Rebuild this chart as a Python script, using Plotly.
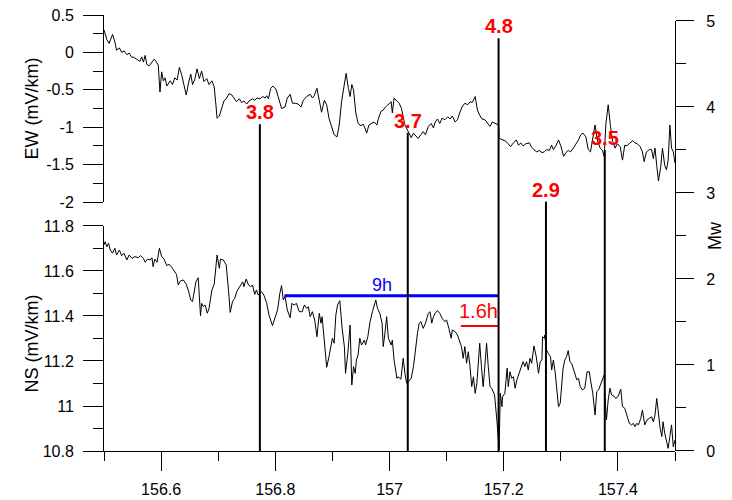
import plotly.graph_objects as go

# ---------------- data ----------------
ew_series = [
(156.500,0.30),(156.505,0.17),(156.509,0.12),(156.515,0.24),(156.519,0.14),(156.522,0.03),(156.527,0.06),(156.531,0.00),
(156.535,0.02),(156.540,-0.03),(156.544,-0.01),(156.549,-0.07),(156.551,-0.06),(156.557,-0.09),(156.563,-0.12),(156.566,-0.06),
(156.569,-0.13),(156.572,-0.04),(156.575,-0.16),(156.579,-0.18),(156.584,-0.13),(156.588,-0.09),(156.591,-0.12),(156.595,-0.17),
(156.598,-0.53),(156.601,-0.26),(156.604,-0.38),(156.607,-0.34),(156.610,-0.45),(156.616,-0.38),(156.620,-0.43),(156.624,-0.34),
(156.628,-0.37),(156.632,-0.20),(156.636,-0.30),(156.639,-0.39),(156.644,-0.57),(156.648,-0.41),(156.652,-0.29),(156.655,-0.43),
(156.659,-0.36),(156.663,-0.22),(156.667,-0.35),(156.671,-0.25),(156.675,-0.39),(156.680,-0.35),(156.684,-0.43),(156.689,-0.38),
(156.693,-0.46),(156.696,-0.70),(156.698,-0.88),(156.702,-0.85),(156.706,-0.75),(156.710,-0.65),(156.715,-0.61),(156.719,-0.55),
(156.724,-0.57),(156.728,-0.62),(156.732,-0.66),(156.737,-0.62),(156.741,-0.67),(156.745,-0.65),(156.750,-0.69),(156.754,-0.65),
(156.760,-0.62),(156.764,-0.64),(156.768,-0.61),(156.773,-0.62),(156.778,-0.59),(156.782,-0.61),(156.785,-0.58),(156.788,-0.62),
(156.792,-0.48),(156.796,-0.45),(156.801,-0.49),(156.805,-0.59),(156.811,-0.75),(156.817,-0.73),(156.821,-0.61),(156.826,-0.56),
(156.830,-0.68),(156.835,-0.68),(156.840,-0.69),(156.845,-0.73),(156.849,-0.64),(156.855,-0.59),(156.861,-0.56),(156.865,-0.61),
(156.868,-0.58),(156.873,-0.48),(156.877,-0.66),(156.881,-0.80),(156.886,-0.64),(156.890,-0.70),(156.894,-0.88),(156.899,-0.99),
(156.903,-1.10),(156.908,-1.13),(156.912,-0.97),(156.916,-0.66),(156.921,-0.39),(156.924,-0.28),(156.928,-0.48),(156.931,-0.59),
(156.934,-0.43),(156.937,-0.50),(156.941,-0.81),(156.945,-0.95),(156.950,-0.98),(156.954,-0.96),(156.957,-1.01),(156.960,-1.08),
(156.964,-0.97),(156.969,-0.95),(156.973,-0.93),(156.978,-0.97),(156.980,-0.90),(156.985,-0.79),(156.989,-0.77),(156.993,-0.73),
(156.998,-0.69),(157.003,-0.66),(157.005,-0.81),(157.008,-0.61),(157.013,-0.65),(157.017,-0.68),(157.021,-0.75),(157.027,-0.97),
(157.033,-1.06),(157.038,-1.14),(157.042,-1.08),(157.046,-1.11),(157.050,-1.15),(157.055,-1.10),(157.059,-1.06),(157.063,-1.10),
(157.068,-0.99),(157.073,-0.95),(157.077,-1.01),(157.080,-0.93),(157.084,-0.89),(157.088,-0.95),(157.092,-0.88),(157.097,-0.90),
(157.102,-0.86),(157.106,-0.89),(157.110,-0.85),(157.115,-0.93),(157.119,-0.90),(157.123,-0.81),(157.127,-0.73),(157.132,-0.68),
(157.137,-0.70),(157.141,-0.66),(157.145,-0.67),(157.150,-0.59),(157.154,-0.77),(157.158,-0.84),(157.162,-0.89),(157.167,-0.90),
(157.172,-0.95),(157.176,-0.99),(157.180,-0.93),(157.185,-0.95),(157.189,-0.96),(157.191,-0.97),(157.192,-1.15),(157.196,-1.16),
(157.202,-1.18),(157.208,-1.22),(157.212,-1.26),(157.217,-1.21),(157.222,-1.17),(157.226,-1.24),(157.230,-1.21),(157.234,-1.25),
(157.239,-1.22),(157.245,-1.21),(157.249,-1.27),(157.253,-1.30),(157.258,-1.33),(157.262,-1.31),(157.267,-1.34),(157.271,-1.33),
(157.275,-1.30),(157.280,-1.31),(157.284,-1.24),(157.287,-1.30),(157.292,-1.24),(157.296,-1.17),(157.300,-1.25),(157.305,-1.39),
(157.309,-1.34),(157.313,-1.31),(157.317,-1.33),(157.322,-1.28),(157.327,-1.22),(157.331,-1.17),(157.335,-1.10),(157.339,-1.08),
(157.344,-1.13),(157.348,-1.30),(157.352,-1.33),(157.357,-1.08),(157.360,-0.97),(157.364,-1.17),(157.369,-1.28),(157.373,-1.31),
(157.376,-1.39),(157.379,-0.95),(157.383,-0.70),(157.387,-0.99),(157.391,-1.19),(157.395,-1.28),(157.399,-1.22),(157.404,-1.26),
(157.408,-1.44),(157.412,-1.24),(157.416,-1.25),(157.421,-1.21),(157.426,-1.18),(157.430,-1.21),(157.434,-1.22),(157.439,-1.26),
(157.443,-1.33),(157.446,-1.46),(157.450,-1.33),(157.455,-1.30),(157.459,-1.30),(157.462,-1.42),(157.465,-1.28),(157.468,-1.51),
(157.471,-1.72),(157.475,-1.53),(157.478,-1.28),(157.482,-1.51),(157.485,-1.57),(157.488,-1.44),(157.491,-0.97),(157.494,-1.28),
(157.497,-1.33),(157.500,-1.48),
]

ns_series = [
(156.500,11.716),(156.502,11.730),(156.505,11.708),(156.508,11.723),(156.511,11.693),(156.515,11.679),(156.519,11.701),(156.522,11.671),
(156.527,11.693),(156.531,11.668),(156.535,11.679),(156.540,11.649),(156.544,11.671),(156.549,11.656),(156.554,11.664),(156.560,11.659),
(156.564,11.668),(156.569,11.656),(156.572,11.639),(156.576,11.653),(156.581,11.649),(156.584,11.659),(156.586,11.619),(156.589,11.653),
(156.593,11.639),(156.597,11.701),(156.601,11.664),(156.605,11.653),(156.610,11.624),(156.614,11.630),(156.619,11.615),(156.623,11.600),
(156.627,11.585),(156.630,11.538),(156.634,11.556),(156.639,11.560),(156.644,11.541),(156.648,11.511),(156.652,11.471),(156.655,11.464),
(156.658,11.505),(156.661,11.552),(156.665,11.570),(156.667,11.501),(156.669,11.401),(156.671,11.456),(156.674,11.441),(156.677,11.449),
(156.681,11.412),(156.684,11.434),(156.689,11.516),(156.693,11.541),(156.696,11.612),(156.698,11.671),(156.702,11.612),(156.704,11.653),
(156.709,11.649),(156.714,11.627),(156.718,11.516),(156.721,11.416),(156.725,11.464),(156.729,11.479),(156.733,11.511),(156.738,11.530),
(156.743,11.552),(156.745,11.530),(156.749,11.564),(156.753,11.538),(156.757,11.530),(156.760,11.538),(156.764,11.496),(156.767,11.516),
(156.770,11.493),(156.776,11.508),(156.780,11.493),(156.785,11.456),(156.789,11.404),(156.795,11.357),(156.799,11.390),(156.804,11.427),
(156.808,11.501),(156.811,11.535),(156.814,11.471),(156.817,11.486),(156.821,11.427),(156.826,11.392),(156.829,11.456),(156.833,11.449),
(156.837,11.456),(156.842,11.419),(156.847,11.419),(156.851,11.449),(156.855,11.434),(156.858,11.441),(156.861,11.397),(156.865,11.419),
(156.869,11.382),(156.873,11.308),(156.877,11.412),(156.880,11.368),(156.882,11.397),(156.886,11.293),(156.890,11.172),(156.894,11.219),
(156.898,11.286),(156.900,11.301),(156.903,11.279),(156.906,11.404),(156.909,11.449),(156.913,11.468),(156.917,11.345),(156.921,11.264),
(156.923,11.145),(156.927,11.234),(156.931,11.360),(156.934,11.093),(156.937,11.175),(156.940,11.145),(156.942,11.204),(156.945,11.227),
(156.948,11.301),(156.951,11.271),(156.956,11.293),(156.958,11.271),(156.962,11.308),(156.966,11.375),(156.970,11.419),(156.973,11.449),
(156.976,11.471),(156.979,11.434),(156.983,11.412),(156.987,11.368),(156.989,11.264),(156.992,11.323),(156.995,11.397),(156.998,11.301),
(157.003,11.271),(157.005,11.293),(157.008,11.204),(157.013,11.123),(157.015,11.130),(157.020,11.119),(157.024,11.212),(157.027,11.145),
(157.030,11.101),(157.033,11.108),(157.038,11.123),(157.042,11.175),(157.046,11.279),(157.049,11.323),(157.052,11.368),(157.055,11.375),
(157.059,11.345),(157.063,11.368),(157.068,11.412),(157.071,11.419),(157.074,11.368),(157.077,11.397),(157.080,11.412),(157.084,11.424),
(157.088,11.412),(157.092,11.390),(157.097,11.375),(157.100,11.382),(157.104,11.345),(157.108,11.301),(157.110,11.338),(157.115,11.330),
(157.119,11.316),(157.123,11.286),(157.126,11.264),(157.129,11.212),(157.132,11.264),(157.135,11.190),(157.138,11.241),(157.141,11.175),
(157.144,11.086),(157.147,11.130),(157.150,11.056),(157.153,11.101),(157.156,11.197),(157.158,11.279),(157.161,11.175),(157.164,11.086),
(157.166,11.145),(157.170,11.279),(157.173,11.175),(157.176,11.086),(157.179,11.079),(157.184,11.049),(157.188,10.938),(157.191,10.834),
(157.192,10.804),(157.194,11.056),(157.197,10.997),(157.198,11.041),(157.202,11.056),(157.206,11.168),(157.208,11.086),(157.211,11.152),
(157.214,11.123),(157.217,11.130),(157.220,11.079),(157.223,11.116),(157.227,11.145),(157.232,11.182),(157.234,11.197),(157.237,11.175),
(157.240,11.197),(157.243,11.160),(157.246,11.212),(157.249,11.190),(157.253,11.267),(157.257,11.219),(157.261,11.145),(157.264,11.197),
(157.267,11.204),(157.268,11.308),(157.271,11.301),(157.272,11.316),(157.275,11.249),(157.278,11.234),(157.282,11.219),(157.284,11.160),
(157.287,11.204),(157.290,11.152),(157.293,11.056),(157.296,10.997),(157.299,11.012),(157.302,11.086),(157.304,11.168),(157.307,11.204),
(157.310,11.219),(157.313,11.246),(157.316,11.197),(157.319,11.190),(157.322,11.168),(157.325,11.145),(157.328,11.116),(157.331,11.123),
(157.334,11.086),(157.338,11.071),(157.342,11.079),(157.346,11.152),(157.350,11.152),(157.352,11.116),(157.356,11.056),(157.360,10.960),
(157.363,11.064),(157.366,11.071),(157.369,11.093),(157.373,11.123),(157.376,11.138),(157.377,11.056),(157.380,10.938),(157.383,11.027),
(157.386,11.079),(157.389,11.049),(157.393,11.044),(157.396,11.034),(157.400,11.041),(157.405,11.074),(157.408,10.997),(157.412,10.990),
(157.415,10.968),(157.420,10.923),(157.424,10.916),(157.427,10.923),(157.430,10.908),(157.433,10.923),(157.436,10.916),(157.440,10.945),
(157.443,10.982),(157.447,10.916),(157.451,10.938),(157.455,10.945),(157.459,10.952),(157.462,10.930),(157.465,10.960),(157.468,11.034),
(157.471,10.968),(157.474,10.901),(157.477,10.864),(157.479,10.930),(157.482,10.879),(157.485,10.849),(157.488,10.812),(157.491,10.864),
(157.494,10.916),(157.497,10.819),(157.500,10.849),
]

quake_time = [156.773, 157.032, 157.191, 157.274, 157.377]
quake_mw = [3.8, 3.7, 4.8, 2.9, 3.5]
quake_label = ["3.8", "3.7", "4.8", "2.9", "3.5"]

interval_9h = [156.816, 157.191]
interval_9h_level = 11.49
interval_9h_label_x = 156.987
interval_16h = [157.125, 157.191]
interval_16h_level = 11.356
interval_16h_label_x = 157.155

x_tick_vals = [156.6, 156.8, 157.0, 157.2, 157.4]
x_tick_text = ["156.6", "156.8", "157", "157.2", "157.4"]
x_minor_vals = [156.5, 156.7, 156.9, 157.1, 157.3, 157.5]
ew_tick_vals = [0.5, 0, -0.5, -1, -1.5, -2]
ew_tick_text = ["0.5", "0", "-0.5", "-1", "-1.5", "-2"]
ew_minor_vals = [0.25, -0.25, -0.75, -1.25, -1.75]
ns_tick_vals = [10.8, 11.0, 11.2, 11.4, 11.6, 11.8]
ns_tick_text = ["10.8", "11", "11.2", "11.4", "11.6", "11.8"]
ns_minor_vals = [10.9, 11.1, 11.3, 11.5, 11.7]
mw_tick_vals = [0, 1, 2, 3, 4, 5]
mw_minor_vals = [0.5, 1.5, 2.5, 3.5, 4.5]

# ---------------- figure ----------------
FONT = "Liberation Sans, Arial, sans-serif"
fig = go.Figure()

ew_t = [p[0] for p in ew_series]
ew_v = [p[1] for p in ew_series]
ns_t = [p[0] for p in ns_series]
ns_v = [p[1] for p in ns_series]

fig.add_trace(go.Scatter(x=ew_t, y=ew_v, mode="lines", line=dict(color="black", width=1),
                         xaxis="x", yaxis="y2", showlegend=False))
fig.add_trace(go.Scatter(x=ns_t, y=ns_v, mode="lines", line=dict(color="black", width=1),
                         xaxis="x", yaxis="y", showlegend=False))

qx, qy = [], []
for t, m in zip(quake_time, quake_mw):
    qx += [t, t, None]
    qy += [0, m, None]
fig.add_trace(go.Scatter(x=qx, y=qy, mode="lines", line=dict(color="black", width=2),
                         xaxis="x", yaxis="y3", showlegend=False))

fig.add_trace(go.Scatter(x=interval_9h, y=[interval_9h_level] * 2, mode="lines",
                         line=dict(color="#0000ff", width=3), xaxis="x", yaxis="y", showlegend=False))
fig.add_trace(go.Scatter(x=interval_16h, y=[interval_16h_level] * 2, mode="lines",
                         line=dict(color="#ff0000", width=2), xaxis="x", yaxis="y", showlegend=False))

annotations = []
for t, m, lab in zip(quake_time, quake_mw, quake_label):
    annotations.append(dict(x=t, y=m, xref="x", yref="y3", text=lab, showarrow=False,
                            xanchor="center", yanchor="bottom", yshift=-1,
                            font=dict(family=FONT, size=20, color="#ff0000", weight="bold")))
annotations.append(dict(x=interval_9h_label_x, y=interval_9h_level, xref="x", yref="y",
                        text="9h", showarrow=False, xanchor="center", yanchor="bottom", yshift=-1,
                        font=dict(family=FONT, size=18, color="#0000ff")))
annotations.append(dict(x=interval_16h_label_x, y=interval_16h_level, xref="x", yref="y",
                        text="1.6h", showarrow=False, xanchor="center", yanchor="bottom", yshift=2,
                        font=dict(family=FONT, size=20, color="#ff0000")))
# axis titles
annotations.append(dict(x=0, y=(0.5711 + 1) / 2, xref="paper", yref="paper", text="EW (mV/km)",
                        showarrow=False, textangle=-90, xanchor="center", yanchor="middle", xshift=-72,
                        font=dict(family=FONT, size=18, color="black")))
annotations.append(dict(x=0, y=0.5161 / 2, xref="paper", yref="paper", text="NS (mV/km)",
                        showarrow=False, textangle=-90, xanchor="center", yanchor="middle", xshift=-72, yshift=-5,
                        font=dict(family=FONT, size=18, color="black")))
annotations.append(dict(x=1, y=0.98624 / 2, xref="paper", yref="paper", text="Mw",
                        showarrow=False, textangle=-90, xanchor="center", yanchor="middle", xshift=40,
                        font=dict(family=FONT, size=18, color="black")))

axis_common = dict(showgrid=False, zeroline=False, showline=True, linecolor="black", linewidth=1,
                   ticks="outside", tickcolor="black", tickwidth=1, automargin=False,
                   tickfont=dict(family=FONT, size=16, color="black"))

fig.update_layout(
    width=732, height=500,
    margin=dict(l=104, r=57, t=15, b=49, pad=0, autoexpand=False),
    paper_bgcolor="white", plot_bgcolor="rgba(0,0,0,0)",
    font=dict(family=FONT, color="black"),
    showlegend=False,
    annotations=annotations,
    xaxis=dict(domain=[0, 1], range=[156.5, 157.5], anchor="y",
               tickmode="array", tickvals=x_tick_vals, ticktext=x_tick_text, ticklen=19,
               ticklabelstandoff=5,
               minor=dict(tickmode="array", tickvals=x_minor_vals, ticklen=9, ticks="outside",
                          tickcolor="black", showgrid=False),
               **axis_common),
    yaxis=dict(domain=[0, 0.5161], range=[10.8, 11.8], anchor="x",
               tickmode="array", tickvals=ns_tick_vals, ticktext=ns_tick_text, ticklen=20,
               ticklabelstandoff=6,
               minor=dict(tickmode="array", tickvals=ns_minor_vals, ticklen=10, ticks="outside",
                          tickcolor="black", showgrid=False),
               **axis_common),
    yaxis2=dict(domain=[0.5711, 1], range=[-2, 0.5], anchor="x",
                tickmode="array", tickvals=ew_tick_vals, ticktext=ew_tick_text, ticklen=20,
                ticklabelstandoff=6,
                minor=dict(tickmode="array", tickvals=ew_minor_vals, ticklen=10, ticks="outside",
                           tickcolor="black", showgrid=False),
                **axis_common),
    yaxis3=dict(domain=[0, 0.98624], range=[0, 5], anchor="x", side="right",
                tickmode="array", tickvals=mw_tick_vals, ticklen=18,
                ticklabelstandoff=9,
                minor=dict(tickmode="array", tickvals=mw_minor_vals, ticklen=10, ticks="outside",
                           tickcolor="black", showgrid=False),
                **axis_common),
)

fig.write_html("out.html")
